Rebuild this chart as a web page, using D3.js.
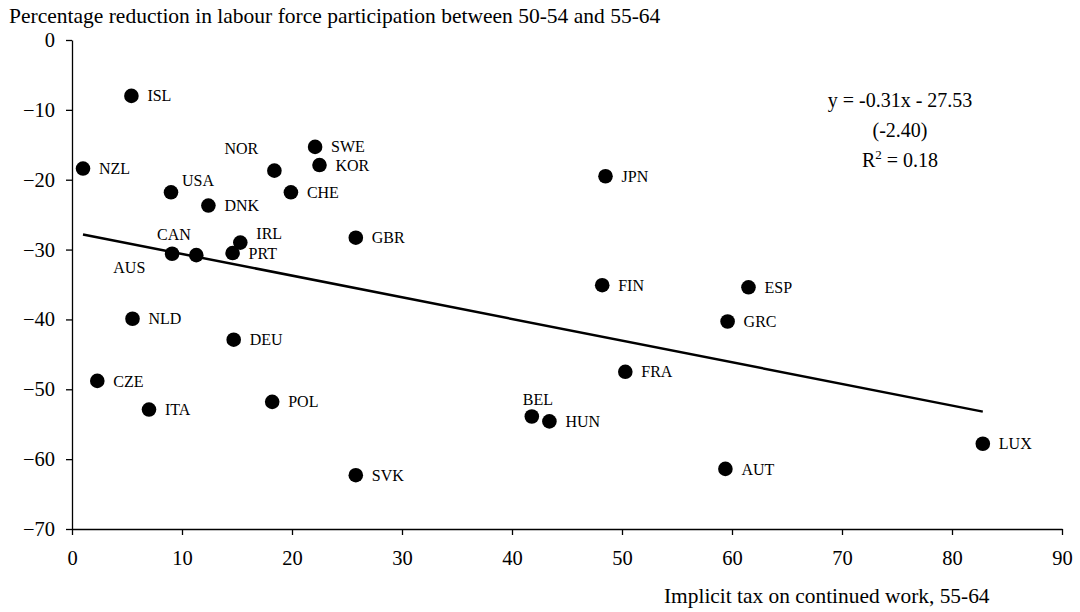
<!DOCTYPE html>
<html>
<head>
<meta charset="utf-8">
<script src="https://cdn.jsdelivr.net/npm/d3@7"></script>
<style>
  html, body { margin: 0; padding: 0; background: #fff; }
  svg { display: block; }
  text { font-family: "Liberation Serif", "Times New Roman", serif; fill: #000; }
</style>
</head>
<body>
<svg id="chart" width="1080" height="612"></svg>
<script>
// ---- Data ----
const countries = ["ISL","NZL","USA","DNK","NOR","SWE","KOR","CHE","CAN","AUS","PRT","IRL","GBR",
                   "NLD","DEU","CZE","ITA","POL","SVK","JPN","FIN","ESP","GRC","FRA","BEL","HUN","LUX","AUT"];
const implicitTax = [5.4, 1.0, 9.0, 12.4, 18.4, 22.1, 22.5, 19.9, 9.1, 11.3, 14.6, 15.3, 25.8,
                     5.5, 14.7, 2.3, 7.0, 18.2, 25.8, 48.5, 48.2, 61.5, 59.6, 50.3, 41.8, 43.4, 82.8, 59.4];
const participationReduction = [-8.0, -18.4, -21.8, -23.7, -18.7, -15.3, -17.9, -21.8, -30.6, -30.8, -30.5, -29.0, -28.3,
                     -39.9, -42.9, -48.8, -52.9, -51.8, -62.3, -19.5, -35.1, -35.4, -40.3, -47.5, -53.9, -54.6, -57.8, -61.4];
const xTicks = [0,10,20,30,40,50,60,70,80,90];
const yTicks = [0,-10,-20,-30,-40,-50,-60,-70];
const slope = -0.31, intercept = -27.53;
const equationLines = ["y = -0.31x - 27.53", "(-2.40)"];
const yTitle = "Percentage reduction in labour force participation between 50-54 and 55-64";
const xTitle = "Implicit tax on continued work, 55-64";

// label placement (layout only)
const labelOffset = {
  NOR: [-50, -22], USA: [11, -12], CAN: [-15, -19], AUS: [-83, 12], IRL: [16, -9], BEL: [-9, -17]
};

// ---- Layout ----
const svg = d3.select("#chart");
const x = d3.scaleLinear().domain([0, 90]).range([72, 1062]);
const y = d3.scaleLinear().domain([-70, 0]).range([529, 40]);

const xAxis = d3.axisBottom(x).tickValues(xTicks).tickSize(6).tickSizeOuter(0).tickPadding(15);
const yAxis = d3.axisLeft(y).tickValues(yTicks).tickSize(6).tickSizeOuter(0).tickPadding(11);

const gx = svg.append("g").attr("transform", `translate(0,${y(-70)})`).call(xAxis);
const gy = svg.append("g").attr("transform", `translate(${x(0)},0)`).call(yAxis);
[gx, gy].forEach(g => {
  g.select(".domain").attr("stroke", "#000").attr("stroke-width", 1.3);
  g.selectAll(".tick line").attr("stroke", "#000").attr("stroke-width", 1.3);
  g.selectAll(".tick text").style("font-family", '"Liberation Serif", "Times New Roman", serif')
    .style("font-size", "20.5px").attr("fill", "#000");
});

// titles
svg.append("text").attr("x", 9).attr("y", 23).style("font-size", "21.5px").text(yTitle);
svg.append("text").attr("x", 664).attr("y", 603).style("font-size", "21.4px").text(xTitle);

// regression line
const xr = d3.extent(implicitTax);
svg.append("line")
  .attr("x1", x(xr[0])).attr("y1", y(slope * xr[0] + intercept))
  .attr("x2", x(xr[1])).attr("y2", y(slope * xr[1] + intercept))
  .attr("stroke", "#000").attr("stroke-width", 2.5);

// points
const data = countries.map((c, i) => ({ c, x: implicitTax[i], y: participationReduction[i] }));
svg.append("g").selectAll("circle").data(data).join("circle")
  .attr("cx", d => x(d.x)).attr("cy", d => y(d.y)).attr("r", 7.3).attr("fill", "#000");

svg.append("g").selectAll("text").data(data).join("text")
  .attr("x", d => x(d.x) + (labelOffset[d.c] ? labelOffset[d.c][0] : 16))
  .attr("y", d => y(d.y) + (labelOffset[d.c] ? labelOffset[d.c][1] : 0))
  .attr("dy", "0.35em")
  .style("font-size", "16px")
  .text(d => d.c);

// equation
const eq = svg.append("g").attr("text-anchor", "middle").style("font-size", "20px");
eq.append("text").attr("x", 900).attr("y", 107).text(equationLines[0]);
eq.append("text").attr("x", 900).attr("y", 137).text(equationLines[1]);
const r2 = eq.append("text").attr("x", 900).attr("y", 167);
r2.append("tspan").text("R");
r2.append("tspan").attr("dy", -8).style("font-size", "13px").text("2");
r2.append("tspan").attr("dy", 8).text(" = 0.18");
</script>
</body>
</html>
